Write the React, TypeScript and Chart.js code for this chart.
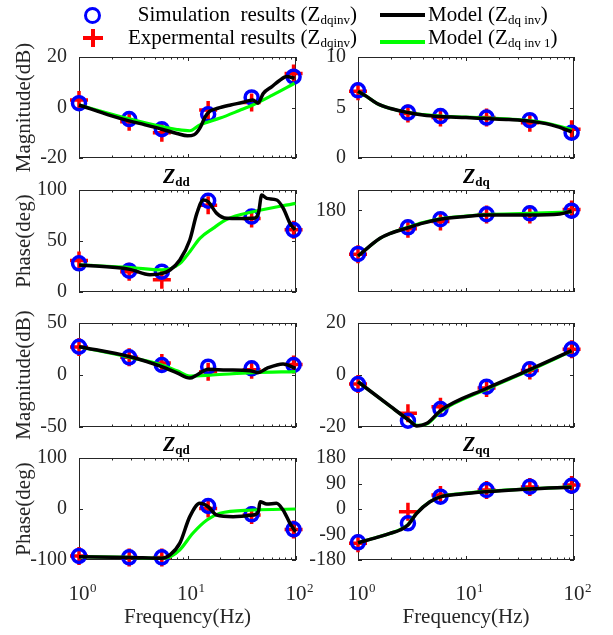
import React, { useEffect, useRef } from 'react';
import { Chart, registerables } from 'chart.js';
Chart.register(...registerables);

const FONT = "'Liberation Serif', 'Times New Roman', Times, serif";
const INK = '#262626';

// measurement frequencies (Hz)
const freqs = [1, 2.9, 5.8, 15.5, 39, 95];

// ---- Zdd magnitude (dB)
const zddMagSim = [1.7, -4.6, -8.6, -2.7, 4.0, 12.2];
const zddMagExp = [3.0, -5.6, -10.0, -1.0, 2.0, 13.5];
const zddMagModelF = [1, 2, 2.9, 4, 5.8, 8, 10, 11.5, 13, 14.5, 16, 19, 25, 32, 40, 44.6, 50, 60, 70, 82, 97];
const zddMagModel = [1.0, -3.3, -5.3, -6.8, -8.6, -10.3, -11.2, -10.8, -8.2, -3.8, -1.5, -0.3, 1.0, 2.0, 3.0, 1.7, 5.6, 8.3, 10.6, 12.3, 11.6];
const zddMagModel1F = [1, 2.9, 5.8, 8, 10.5, 13, 20, 30, 40, 60, 97];
const zddMagModel1 = [1.0, -4.5, -7.6, -8.7, -9.2, -6.9, -4.2, -1.2, 1.0, 4.8, 9.6];

// ---- Zdq magnitude (dB)
const zdqMagSim = [6.7, 4.5, 4.15, 4.0, 3.75, 2.5];
const zdqMagExp = [6.6, 4.4, 4.0, 4.0, 3.5, 2.85];
const zdqMagModelF = [1, 1.2, 1.5, 2, 2.9, 4, 5.8, 10, 15.5, 25, 39, 55, 70, 95];
const zdqMagModel = [6.6, 6.1, 5.4, 4.9, 4.5, 4.25, 4.1, 4.0, 3.9, 3.8, 3.65, 3.4, 3.1, 2.6];
const zdqMagModel1 = [6.6, 6.1, 5.4, 4.9, 4.5, 4.3, 4.15, 4.05, 3.95, 3.85, 3.7, 3.45, 3.2, 2.8];

// ---- Zdd phase (deg)
const zddPhSim = [28.1, 20.9, 19.9, 89.5, 73.9, 60.8];
const zddPhExp = [31, 19.9, 12, 85, 72, 61];
const zddPhModelF = [1, 2.95, 4.5, 5.85, 6.9, 8.5, 10.5, 12.2, 14, 15.5, 18.6, 23, 30, 40.4, 45, 48.3, 53.7, 66.4, 76.4, 88, 98];
const zddPhModel = [26.5, 22.2, 17.0, 18.3, 21.6, 31.4, 51, 77.1, 90.2, 88.5, 77.1, 72.2, 72.0, 72.2, 77, 95, 91.8, 90.2, 82, 67.3, 60.8];
const zddPhModel1F = [1, 3, 5.8, 8.5, 10.5, 13, 17.2, 23.1, 40.2, 99];
const zddPhModel1 = [26.5, 24, 21.6, 28, 39.5, 52.6, 62.4, 71.3, 78.7, 86.9];

// ---- Zdq phase (deg)
const zdqPhSim = [137.3, 163.4, 171.3, 176.2, 177.1, 179.7];
const zdqPhExp = [137, 162, 169, 176, 176, 181];
const zdqPhModelF = [1, 1.6, 2, 2.9, 4, 5.9, 10, 15.6, 38, 74, 95];
const zdqPhModel = [135.3, 152.6, 157.5, 163, 167.5, 171.6, 174, 175.5, 175.5, 176.5, 179.4];
const zdqPhModel1 = [135.3, 152.6, 157.5, 163.5, 168, 172, 174.5, 176, 177, 178, 178.5];

// ---- Zqd magnitude (dB)
const zqdMagSim = [27.2, 17, 9.6, 8, 6.4, 9.6];
const zqdMagExp = [27, 17, 11.5, 3.2, 5, 10];
const zqdMagModelF = [1, 2.95, 5.8, 8, 10.5, 12.2, 15.5, 23, 37.7, 44.5, 53.8, 76, 99];
const zqdMagModel = [27.2, 17.6, 8, 2, -3, 0, 5.5, 4.8, 4.2, 2.2, 6.4, 10.6, 6.4];
const zqdMagModel1F = [1, 2.95, 5.8, 8, 10.5, 17, 40, 99];
const zqdMagModel1 = [27.2, 17, 9.6, 4, -1, 0, 2.2, 3.2];

// ---- Zqq magnitude (dB)
const zqqMagSim = [-3.5, -17.6, -13.1, -4.5, 2.2, 9.9];
const zqqMagExp = [-3.5, -14.7, -12.2, -5, 1.7, 9.9];
const zqqMagModelF = [1, 2, 3, 3.5, 4.35, 5.9, 15.6, 38, 95];
const zqqMagModel = [-2.6, -12.1, -17.6, -19.6, -18.6, -13.5, -5.1, 1.9, 9.4];
const zqqMagModel1 = [-2.6, -12.1, -17.5, -19.4, -18.8, -13.8, -5.4, 1.6, 9.2];

// ---- Zqd phase (deg)
const zqdPhSim = [-92, -94.8, -94.8, 5.9, -10.5, -39.9];
const zqdPhExp = [-92, -95, -95, 1, -12, -40];
const zqdPhModelF = [1, 2.95, 5.8, 6.9, 8.5, 10.5, 13, 15.5, 18.6, 26.3, 40, 45, 46.6, 53.8, 66, 76, 88, 99];
const zqdPhModel = [-93.5, -95, -96.7, -90, -67, -15, 11.2, 4.5, -11.8, -15, -11.8, -5.3, 14.3, 9.8, 11.2, -2, -28, -44.5];
const zqdPhModel1F = [1, 2.95, 5.8, 7, 8.5, 11.2, 15.1, 19.9, 40, 99];
const zqdPhModel1 = [-93.5, -95, -96.7, -93, -80, -47.6, -21.6, -8.5, -2, 0];

// ---- Zqq phase (deg)
const zqqPhSim = [-117.6, -50.6, 43.5, 67, 78.8, 82.2];
const zqqPhExp = [-121, -9.5, 49.4, 67, 78, 85];
const zqqPhModelF = [1, 1.5, 1.98, 2.45, 2.9, 3.5, 4.64, 5.9, 9, 15.6, 38, 95];
const zqqPhModel = [-119, -100, -85.9, -74, -56.5, -15, 25.8, 43.5, 53, 61, 70.6, 76.6];
const zqqPhModel1 = [-119, -100, -86, -73, -55, -14, 26, 44, 54, 62, 71, 78];

// axis ticks
const xTickValues = [1, 2, 3, 4, 5, 6, 7, 8, 9, 10, 20, 30, 40, 50, 60, 70, 80, 90, 100];
const xDecades = [1, 10, 100];
const xDecadeExps = ['0', '1', '2'];

type Panel = {
  col: number; row: number;
  yMin: number; yMax: number; yTicks: number[]; yTitle?: string;
  sim: number[]; exp: number[];
  mF: number[]; m: number[]; m1F: number[]; m1: number[];
};

const panels: Panel[] = [
  { col: 0, row: 0, yMin: -20, yMax: 20, yTicks: [-20, 0, 20], yTitle: 'Magnitude(dB)', sim: zddMagSim, exp: zddMagExp, mF: zddMagModelF, m: zddMagModel, m1F: zddMagModel1F, m1: zddMagModel1 },
  { col: 1, row: 0, yMin: 0, yMax: 10, yTicks: [0, 5, 10], sim: zdqMagSim, exp: zdqMagExp, mF: zdqMagModelF, m: zdqMagModel, m1F: zdqMagModelF, m1: zdqMagModel1 },
  { col: 0, row: 1, yMin: 0, yMax: 100, yTicks: [0, 50, 100], yTitle: 'Phase(deg)', sim: zddPhSim, exp: zddPhExp, mF: zddPhModelF, m: zddPhModel, m1F: zddPhModel1F, m1: zddPhModel1 },
  { col: 1, row: 1, yMin: 100, yMax: 200, yTicks: [180], sim: zdqPhSim, exp: zdqPhExp, mF: zdqPhModelF, m: zdqPhModel, m1F: zdqPhModelF, m1: zdqPhModel1 },
  { col: 0, row: 2, yMin: -50, yMax: 50, yTicks: [-50, 0, 50], yTitle: 'Magnitude(dB)', sim: zqdMagSim, exp: zqdMagExp, mF: zqdMagModelF, m: zqdMagModel, m1F: zqdMagModel1F, m1: zqdMagModel1 },
  { col: 1, row: 2, yMin: -20, yMax: 20, yTicks: [-20, 0, 20], sim: zqqMagSim, exp: zqqMagExp, mF: zqqMagModelF, m: zqqMagModel, m1F: zqqMagModelF, m1: zqqMagModel1 },
  { col: 0, row: 3, yMin: -100, yMax: 100, yTicks: [-100, 0, 100], yTitle: 'Phase(deg)', sim: zqdPhSim, exp: zqdPhExp, mF: zqdPhModelF, m: zqdPhModel, m1F: zqdPhModel1F, m1: zqdPhModel1 },
  { col: 1, row: 3, yMin: -180, yMax: 180, yTicks: [-180, -90, 0, 90, 180], sim: zqqPhSim, exp: zqqPhExp, mF: zqqPhModelF, m: zqqPhModel, m1F: zqqPhModelF, m1: zqqPhModel1 },
];

const W = 613, H = 635;
const COLS = [{ left: 79, right: 296 }, { left: 358, right: 574 }];
const ROWS = [{ top: 57, bottom: 158 }, { top: 190, bottom: 292 }, { top: 323, bottom: 427 }, { top: 458, bottom: 560 }];

const xy = (xs: number[], ys: number[]) => xs.map((x, i) => ({ x, y: ys[i] }));

const framePlugin = {
  id: 'frame',
  beforeDatasetsDraw(chart: any) {
    const { ctx, chartArea } = chart;
    const { left, top, right, bottom } = chartArea;
    const xs = chart.scales.x, ys = chart.scales.y;
    ctx.save();
    ctx.strokeStyle = INK;
    ctx.lineWidth = 1;
    ctx.strokeRect(left + 0.5, top + 0.5, right - left - 1, bottom - top - 1);
    ctx.beginPath();
    ys.ticks.forEach((t: any) => {
      const y = Math.round(ys.getPixelForValue(t.value)) + 0.5;
      ctx.moveTo(left, y); ctx.lineTo(left + 4, y);
      ctx.moveTo(right, y); ctx.lineTo(right - 4, y);
    });
    xTickValues.forEach((v) => {
      const len = xDecades.includes(v) ? 4 : 2.5;
      const x = Math.round(xs.getPixelForValue(v)) + 0.5;
      ctx.moveTo(x, bottom); ctx.lineTo(x, bottom - len);
      ctx.moveTo(x, top); ctx.lineTo(x, top + len);
    });
    ctx.stroke();
    ctx.restore();
  },
  afterDraw(chart: any, _args: any, opts: any) {
    if (!opts || !opts.decadeLabels) return;
    const { ctx, chartArea } = chart;
    const xs = chart.scales.x;
    ctx.save();
    ctx.fillStyle = INK;
    ctx.textBaseline = 'alphabetic';
    ctx.textAlign = 'left';
    xDecades.forEach((v, i) => {
      const x = xs.getPixelForValue(v);
      ctx.font = `21px ${FONT}`;
      const w = ctx.measureText('10').width;
      ctx.fillText('10', x - w / 2, chartArea.bottom + 40);
      ctx.font = `13px ${FONT}`;
      ctx.fillText(xDecadeExps[i], x + w / 2 + 0.5, chartArea.bottom + 32);
    });
    ctx.restore();
  },
};

function makeConfig(p: Panel): any {
  const c = COLS[p.col], r = ROWS[p.row];
  const yW = p.col === 0 ? 67 : 60;
  const xH = p.row === 3 ? 70 : 0;
  return {
    type: 'scatter',
    plugins: [framePlugin],
    data: {
      datasets: [
        { data: xy(p.mF, p.m), showLine: true, borderColor: '#000000', borderWidth: 3.5, pointRadius: 0, cubicInterpolationMode: 'monotone', clip: false },
        { data: xy(p.m1F, p.m1), showLine: true, borderColor: '#00ff00', borderWidth: 3.2, pointRadius: 0, cubicInterpolationMode: 'monotone', clip: false },
        { data: xy(freqs, p.sim), pointStyle: 'circle', pointRadius: 6.5, borderColor: '#0000ff', backgroundColor: 'rgba(0,0,0,0)', borderWidth: 3.5, clip: false },
        { data: xy(freqs, p.exp), pointStyle: 'cross', pointRadius: 9, borderColor: '#ff0000', backgroundColor: '#ff0000', borderWidth: 3.5, clip: false },
      ],
    },
    options: {
      responsive: false,
      animation: false,
      events: [],
      layout: { padding: { left: c.left - yW, right: W - c.right, top: r.top, bottom: H - r.bottom - xH } },
      plugins: { legend: { display: false }, tooltip: { enabled: false }, frame: { decadeLabels: p.row === 3 } },
      scales: {
        x: {
          type: 'logarithmic', min: 1, max: 100,
          afterFit: (s: any) => { s.height = xH; },
          grid: { display: false }, border: { display: false },
          ticks: { display: false },
          title: { display: p.row === 3, text: 'Frequency(Hz)', color: INK, font: { family: FONT, size: 21 }, padding: { top: 0, bottom: 0 } },
        },
        y: {
          type: 'linear', min: p.yMin, max: p.yMax,
          afterBuildTicks: (s: any) => { s.ticks = p.yTicks.map((v) => ({ value: v })); },
          afterFit: (s: any) => { s.width = yW; },
          grid: { display: false }, border: { display: false },
          ticks: { color: INK, font: { family: FONT, size: 20 }, padding: 4, autoSkip: false, callback: (v: any) => String(v) },
          title: { display: !!p.yTitle, text: p.yTitle || '', color: INK, font: { family: FONT, size: 21 }, padding: { top: 0, bottom: 0 } },
        },
      },
    },
  };
}

const SubTitle = ({ left, baseline, sub }: { left: number; baseline: number; sub: string }) => (
  <div style={{ position: 'absolute', left, top: baseline - 16.75, fontFamily: FONT, fontSize: 20, lineHeight: '20px', fontWeight: 'bold', fontStyle: 'italic', color: '#000', whiteSpace: 'nowrap' }}>
    Z<span style={{ fontSize: 13, fontStyle: 'normal', position: 'relative', top: 3 }}>{sub}</span>
  </div>
);

const LegendText = ({ baseline, left, right, main, sub }: { baseline: number; left?: number; right?: number; main: string; sub: string }) => (
  <div style={{ position: 'absolute', left, right, top: baseline - 17.6, fontFamily: FONT, fontSize: 21, lineHeight: '21px', color: '#000', whiteSpace: 'pre' }}>
    {main}(Z<span style={{ fontSize: 13, position: 'relative', top: 3 }}>{sub}</span>)
  </div>
);

export default function App() {
  const refs = useRef<(HTMLCanvasElement | null)[]>([]);
  useEffect(() => {
    Chart.defaults.font.family = FONT;
    const charts = panels.map((p, i) => new Chart(refs.current[i] as HTMLCanvasElement, makeConfig(p)));
    return () => charts.forEach((c) => c.destroy());
  }, []);

  return (
    <div style={{ position: 'absolute', left: 0, top: 0, width: W, height: H, background: '#fff', overflow: 'hidden' }}>
      {panels.map((_, i) => (
        <canvas key={i} ref={(el) => { refs.current[i] = el; }} width={W} height={H} style={{ position: 'absolute', left: 0, top: 0 }} />
      ))}
      {/* legend */}
      <div style={{ position: 'absolute', left: 83.5, top: 6.5, width: 17, height: 17, boxSizing: 'border-box', border: '3.5px solid #0000ff', borderRadius: '50%' }} />
      <div style={{ position: 'absolute', left: 83, top: 35.5, width: 20, height: 4, background: '#ff0000' }} />
      <div style={{ position: 'absolute', left: 91, top: 28.5, width: 4, height: 18, background: '#ff0000' }} />
      <LegendText baseline={22} right={W - 357} main={'Simulation  results '} sub="dqinv" />
      <LegendText baseline={45} right={W - 357} main={'Expermental results '} sub="dqinv" />
      <div style={{ position: 'absolute', left: 380, top: 13, width: 45, height: 4, background: '#000' }} />
      <div style={{ position: 'absolute', left: 380, top: 40, width: 45, height: 4, background: '#00ff00' }} />
      <LegendText baseline={22} left={428} main={'Model '} sub="dq inv" />
      <LegendText baseline={45} left={428} main={'Model '} sub="dq inv 1" />
      {/* subplot titles */}
      <SubTitle left={163} baseline={ROWS[1].top - 7} sub="dd" />
      <SubTitle left={463} baseline={ROWS[1].top - 7} sub="dq" />
      <SubTitle left={163} baseline={ROWS[3].top - 7} sub="qd" />
      <SubTitle left={463} baseline={ROWS[3].top - 7} sub="qq" />
    </div>
  );
}
